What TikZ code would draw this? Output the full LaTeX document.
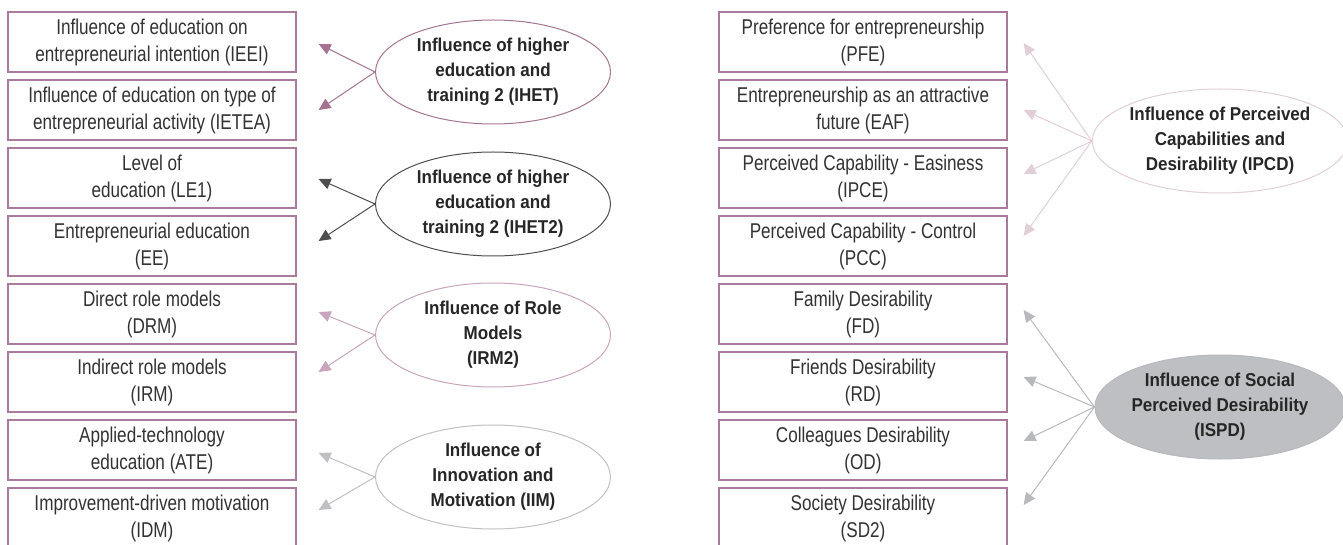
\documentclass[tikz,border=0pt]{standalone}
\usepackage{fontspec}
\setmainfont{Liberation Sans}[FakeStretch=0.80]
\newfontfamily\ovalfont{Liberation Sans}[FakeStretch=0.915]
\usepackage{xcolor}
\usepackage{tikz}
\usetikzlibrary{arrows.meta,shapes.geometric}

\definecolor{boxline}{RGB}{172,122,154}
\definecolor{boxtext}{RGB}{50,50,52}
\definecolor{mauve}{RGB}{165,115,145}
\definecolor{darkg}{RGB}{78,78,80}
\definecolor{lmauve}{RGB}{200,165,188}
\definecolor{lgray}{RGB}{192,192,196}
\definecolor{pinkg}{RGB}{226,206,216}
\definecolor{midg}{RGB}{184,185,189}
\definecolor{ovalfill}{RGB}{190,191,194}

\begin{document}
\begin{tikzpicture}[x=1pt,y=-1pt,
item/.style={draw=boxline,line width=1.2pt,minimum width=288pt,minimum height=60pt,inner sep=0pt,align=center,text=boxtext,font=\fontsize{21.4}{27}\selectfont},
factor/.style={ellipse,line width=1pt,minimum width=235pt,minimum height=104pt,inner sep=0pt,align=center,text=black!85,font=\ovalfont\bfseries\fontsize{18.6}{25}\selectfont},
link/.style={line width=1pt,-{Triangle[length=12pt,width=11pt]}}]
\clip(0,0)rectangle(1343,545);
%left column
\node[item](ieei)at(152,42){Influence of education on\\entrepreneurial intention (IEEI)};
\node[item](ietea)at(152,110){Influence of education on type of\\entrepreneurial activity (IETEA)};
\node[item](le1)at(152,178){Level of\\education (LE1)};
\node[item](ee)at(152,246){Entrepreneurial education\\(EE)};
\node[item](drm)at(152,314){Direct role models\\(DRM)};
\node[item](irm)at(152,382){Indirect role models\\(IRM)};
\node[item](ate)at(152,450){Applied-technology\\education (ATE)};
\node[item](idm)at(152,518){Improvement-driven motivation\\(IDM)};
\node[factor,draw=mauve](ihet)at(493,72){Influence of higher\\education and\\training 2 (IHET)};
\node[factor,draw=darkg](ihet2)at(493,204){Influence of higher\\education and\\training 2 (IHET2)};
\node[factor,draw=lmauve](irm2)at(493,335){Influence of Role\\Models\\(IRM2)};
\node[factor,draw=lgray](iim)at(493,477){Influence of\\Innovation and\\Motivation (IIM)};
\draw[link,mauve](ihet.west)--([xshift=22pt,yshift=-2pt]ieei.east);
\draw[link,mauve](ihet.west)--([xshift=22pt]ietea.east);
\draw[link,darkg](ihet2.west)--([xshift=22pt,yshift=-1pt]le1.east);
\draw[link,darkg](ihet2.west)--([xshift=22pt,yshift=5pt]ee.east);
\draw[link,lmauve](irm2.west)--([xshift=22pt,yshift=2pt]drm.east);
\draw[link,lmauve](irm2.west)--([xshift=22pt,yshift=10pt]irm.east);
\draw[link,lgray](iim.west)--([xshift=22pt,yshift=-3pt]ate.east);
\draw[link,lgray](iim.west)--([xshift=22pt,yshift=8pt]idm.east);
%right column
\node[item](pfe)at(863,42){Preference for entrepreneurship\\(PFE)};
\node[item](eaf)at(863,110){Entrepreneurship as an attractive\\future (EAF)};
\node[item](ipce)at(863,178){Perceived Capability - Easiness\\(IPCE)};
\node[item](pcc)at(863,246){Perceived Capability - Control\\(PCC)};
\node[item](fd)at(863,314){Family Desirability\\(FD)};
\node[item](rd)at(863,382){Friends Desirability\\(RD)};
\node[item](od)at(863,450){Colleagues Desirability\\(OD)};
\node[item](sd2)at(863,518){Society Desirability\\(SD2)};
\node[factor,draw=pinkg](ipcd)at(1220,141){Influence of Perceived\\Capabilities and\\Desirability (IPCD)};
\node[factor,draw=midg,fill=ovalfill](ispd)at(1220,407){Influence of Social\\Perceived Desirability\\(ISPD)};
\draw[link,pinkg](ipcd.west)--([xshift=16pt,yshift=-1pt]pfe.east);
\draw[link,pinkg](ipcd.west)--([xshift=16pt]eaf.east);
\draw[link,pinkg](ipcd.west)--([xshift=16pt,yshift=4pt]ipce.east);
\draw[link,pinkg](ipcd.west)--([xshift=16pt,yshift=10pt]pcc.east);
\draw[link,midg](ispd.west)--([xshift=16pt,yshift=4pt]fd.east);
\draw[link,midg](ispd.west)--([xshift=16pt,yshift=5pt]rd.east);
\draw[link,midg](ispd.west)--([xshift=16pt,yshift=9pt]od.east);
\draw[link,midg](ispd.west)--([xshift=16pt,yshift=13pt]sd2.east);
\end{tikzpicture}
\end{document}
